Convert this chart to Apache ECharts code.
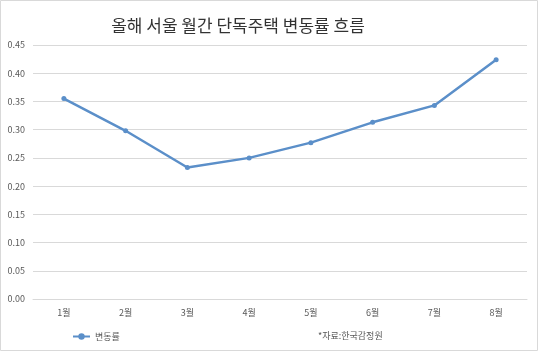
<!DOCTYPE html>
<html><head><meta charset="utf-8">
<script src="https://cdn.jsdelivr.net/npm/echarts@6/dist/echarts.min.js"></script>
<style>html,body{margin:0;padding:0;background:#fff}#c{width:540px;height:357px}</style>
</head><body><div id="c"></div>
<script>
const categories = ['1월','2월','3월','4월','5월','6월','7월','8월'];
const values = [0.355, 0.298, 0.233, 0.250, 0.277, 0.313, 0.343, 0.424];
const seriesName = '변동률';
const titleText = '올해 서울 월간 단독주택 변동률 흐름';
const sourceText = '*자료:한국감정원';

const chart = echarts.init(document.getElementById('c'));
const font = '"Noto Sans CJK KR", "Noto Sans", sans-serif';
chart.setOption({
  animation: false,
  textStyle: {fontFamily: font},
  title: {text: titleText, left: 233, top: 12, textAlign: 'center',
    textStyle: {fontSize: 17, fontWeight: 'normal', color: '#333', fontFamily: font}},
  grid: {left: 33, right: 13, top: 45, bottom: 58},
  legend: {data: [seriesName], left: 67, top: 327, itemWidth: 17, itemHeight: 8,
    itemGap: 4, textStyle: {fontSize: 9, color: '#595959', fontFamily: font}},
  xAxis: {type: 'category', data: categories, boundaryGap: true,
    axisLine: {lineStyle: {color: '#d9d9d9'}}, axisTick: {show: false},
    axisLabel: {fontSize: 9, color: '#595959', margin: 9}},
  yAxis: {type: 'value', min: 0, max: 0.45, interval: 0.05,
    axisLine: {show: false}, axisTick: {show: false},
    splitLine: {lineStyle: {color: '#d9d9d9'}},
    axisLabel: {fontSize: 9, color: '#595959', margin: 8, formatter: v => v.toFixed(2)}},
  series: [{name: seriesName, type: 'line', data: values, symbol: 'circle', symbolSize: 5,
    lineStyle: {color: '#5b8fc9', width: 2.5}, itemStyle: {color: '#5b8fc9'}}],
  graphic: [
    {type: 'text', left: 318, top: 331, style: {text: sourceText, fontSize: 9, fill: '#595959', fontFamily: font}},
    {type: 'rect', shape: {x: 0.5, y: 0.5, width: 537, height: 350}, style: {fill: 'none', stroke: '#d9d9d9', lineWidth: 1}, silent: true}
  ]
});
</script></body></html>
